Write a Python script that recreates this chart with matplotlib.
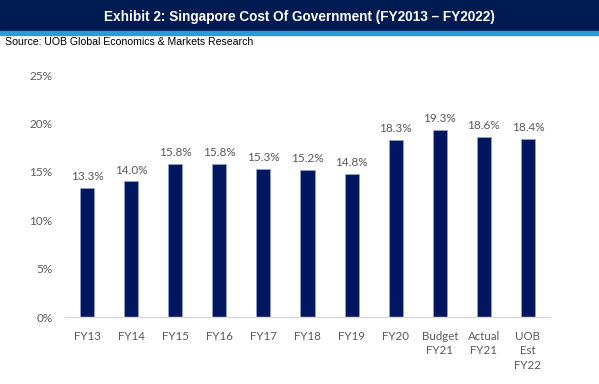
import matplotlib.pyplot as plt
from matplotlib.patches import Rectangle

categories = ["FY13", "FY14", "FY15", "FY16", "FY17", "FY18", "FY19", "FY20",
              "Budget\nFY21", "Actual\nFY21", "UOB\nEst\nFY22"]
values = [13.3, 14.0, 15.8, 15.8, 15.3, 15.2, 14.8, 18.3, 19.3, 18.6, 18.4]
yticks = [0, 5, 10, 15, 20, 25]

navy = "#001760"
grey = "#595959"

fig = plt.figure(figsize=(5.99, 3.84), dpi=100)

# header band
fig.patches.append(Rectangle((0, 1 - 31 / 384), 1, 31 / 384, transform=fig.transFigure,
                             color="#001a52", zorder=0))
fig.patches.append(Rectangle((0, 1 - 35 / 384), 1, 4 / 384, transform=fig.transFigure,
                             color="#2a9ad8", zorder=0))
fig.text(0.5, 1 - 17 / 384, "Exhibit 2: Singapore Cost Of Government (FY2013 \u2013 FY2022)",
         color="white", fontsize=9.8, fontweight="bold", family="Liberation Sans",
         ha="center", va="center")
fig.text(0.008, 1 - 42 / 384, "Source: UOB Global Economics & Markets Research",
         color="black", fontsize=7.6, family="Liberation Sans", ha="left", va="center")

ax = fig.add_axes([65 / 599, 1 - 317 / 384, 485 / 599, 242 / 384])
x = range(len(categories))
ax.bar(x, values, width=0.32, color=navy, edgecolor="#8fa3c8", linewidth=0.6)
for i, v in zip(x, values):
    ax.text(i, v + 0.6, "{:.1f}%".format(v), ha="center", va="bottom",
            color=grey, fontsize=8.5, family="Lato")

ax.set_xlim(-0.5, len(categories) - 0.5)
ax.set_ylim(0, 25)
ax.set_yticks(yticks)
ax.set_yticklabels(["{}%".format(t) for t in yticks], family="Lato", color=grey, fontsize=8.5)
ax.set_xticks(list(x))
ax.set_xticklabels(categories, family="Lato", color=grey, fontsize=8.3, linespacing=1.4, va="top")
ax.tick_params(length=0)
ax.tick_params(axis="x", pad=10)
ax.tick_params(axis="y", pad=9)
for s in ["left", "right", "top"]:
    ax.spines[s].set_visible(False)
ax.spines["bottom"].set_color("#d9d9d9")
ax.spines["bottom"].set_linewidth(1)

fig.savefig("out.png", dpi=100)
